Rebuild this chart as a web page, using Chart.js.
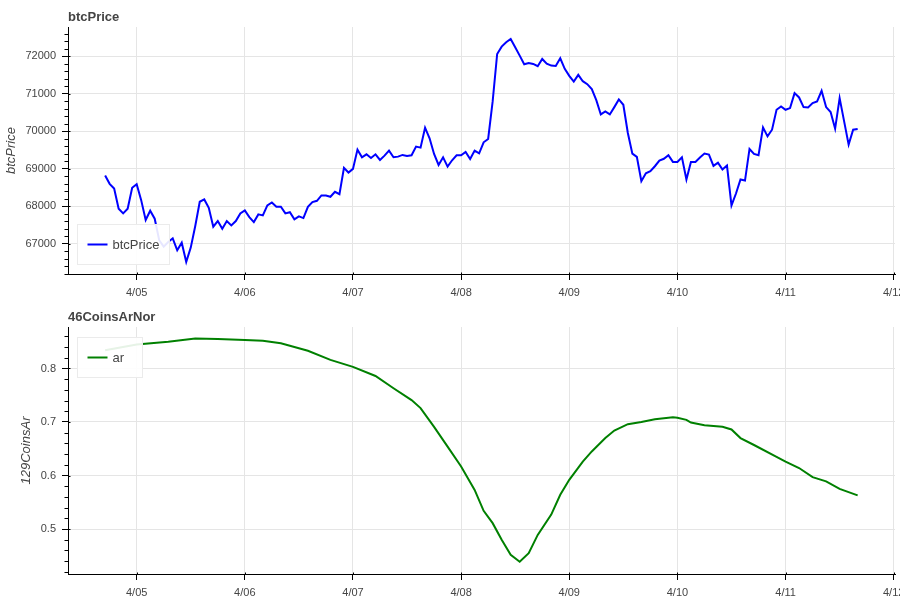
<!DOCTYPE html>
<html>
<head>
<meta charset="utf-8">
<script src="https://cdn.jsdelivr.net/npm/chart.js@4.4.1/dist/chart.umd.min.js"></script>
<style>
html,body{margin:0;padding:0;background:#ffffff;}
.wrap{width:900px;height:300px;position:relative;}
canvas{display:block;}
</style>
</head>
<body>
<div class="wrap"><canvas id="c1" width="900" height="300"></canvas></div>
<div class="wrap"><canvas id="c2" width="900" height="300"></canvas></div>
<script>
// ---------- data ----------
// x tick labels (days of April)
const dayTickValues = [5, 6, 7, 8, 9, 10, 11, 12];
const dayTickLabels = ['4/05', '4/06', '4/07', '4/08', '4/09', '4/10', '4/11', '4/12'];

// y tick values
const btcTickValues = [67000, 68000, 69000, 70000, 71000, 72000];
const arTickValues = [0.5, 0.6, 0.7, 0.8];

// hourly btc price, first point 4/04 17:00 (hour -7 relative to 4/05 00:00)
const btcFirstHour = -7;
const btcPrice = [
  68823, 68602, 68478, 67938, 67814, 67938, 68496,
  68593, 68168, 67637, 67885, 67673, 67100, 66930, 67050, 67150, 66832, 67035, 66522,
  66903, 67478, 68124, 68186, 67965, 67460, 67611, 67407, 67611, 67496, 67611, 67814,
  67894, 67717, 67584, 67788, 67761, 68027, 68106, 67991, 67991, 67814, 67845, 67655,
  67734, 67690, 67991, 68115, 68150, 68292, 68292, 68257, 68389, 68327, 69027, 68903,
  69000, 69513, 69310, 69389, 69292, 69389, 69239, 69354, 69487, 69310, 69327, 69372,
  69345, 69363, 69593, 69566, 70097, 69814, 69398, 69106, 69310, 69062, 69230, 69363,
  69363, 69451, 69265, 69487, 69415, 69708, 69797, 70797, 72062, 72257, 72372, 72460,
  72239, 72018, 71788, 71823, 71797, 71735, 71929, 71805, 71752, 71744, 71947, 71664,
  71478, 71328, 71505, 71336, 71257, 71124, 70832, 70451, 70531, 70451, 70646, 70850,
  70708, 69956, 69407, 69319, 68673, 68885, 68938, 69071, 69221, 69270, 69363, 69186,
  69186, 69310, 68717, 69186, 69186, 69301, 69407, 69381, 69080, 69168, 68982, 69089,
  68027, 68345, 68717, 68690, 69531, 69398, 69363, 70106, 69867, 70044, 70575, 70664,
  70575, 70620, 71018, 70903, 70646, 70637, 70752, 70797, 71080, 70646, 70513, 70071,
  70885, 70266, 69646, 70044, 70062
];

// ar series: hours relative to 4/05 00:00 and values
const arHours = [-7, 0, 7, 13, 18, 24, 28, 32, 38, 43, 48, 53, 57, 61, 63, 66, 69, 72, 75, 77,
  79, 81, 83, 85, 87, 89, 92, 94, 96, 99, 101, 104, 106, 109, 112, 115, 119, 120, 122, 123,
  126, 130, 132, 134, 137, 142, 144, 147, 150, 153, 156, 160];
const arValues = [0.834, 0.845, 0.850, 0.856, 0.855, 0.853, 0.852, 0.847, 0.833, 0.816,
  0.803, 0.786, 0.763, 0.741, 0.726, 0.691, 0.654, 0.617, 0.573, 0.534,
  0.511, 0.480, 0.452, 0.439, 0.455, 0.489, 0.527, 0.564, 0.592, 0.626,
  0.645, 0.670, 0.684, 0.696, 0.700, 0.705, 0.709, 0.708, 0.704, 0.699,
  0.694, 0.691, 0.686, 0.670, 0.657, 0.635, 0.626, 0.614, 0.597, 0.589,
  0.575, 0.563];

// ---------- styling ----------
const FONT = '"Liberation Sans", Arial, Helvetica, sans-serif';
const TEXT = '#444444';
const GRID = '#e5e5e5';
const X_MIN = 4.365, X_MAX = 12.012;

const hourToDay = h => 5 + h / 24;
const btcPoints = btcPrice.map((v, i) => ({ x: hourToDay(btcFirstHour + i), y: v }));
const arPoints = arValues.map((v, i) => ({ x: hourToDay(arHours[i]), y: v }));

const decorPlugin = {
  id: 'decor',
  afterDatasetsDraw(chart, args, o) {
    const { ctx, chartArea } = chart;
    // legend
    ctx.save();
    ctx.font = '13px ' + FONT;
    const tw = ctx.measureText(o.legendLabel).width;
    const w = 10 + 20 + 5 + Math.max(20, tw) + 10;
    const h = 40;
    const x = Math.round(chartArea.left + 9) + 0.5;
    const y = o.legendAt === 'bottom' ? Math.round(chartArea.bottom - 10 - h) + 0.5 : Math.round(chartArea.top + 10) + 0.5;
    ctx.fillStyle = 'rgba(255,255,255,0.9)';
    ctx.fillRect(x, y, w, h);
    ctx.strokeStyle = '#ebebeb';
    ctx.lineWidth = 1;
    ctx.strokeRect(x, y, w, h);
    ctx.strokeStyle = o.legendColor;
    ctx.lineWidth = 2;
    ctx.beginPath();
    ctx.moveTo(x + 10, y + h / 2);
    ctx.lineTo(x + 30, y + h / 2);
    ctx.stroke();
    ctx.fillStyle = TEXT;
    ctx.textBaseline = 'middle';
    ctx.textAlign = 'left';
    ctx.fillText(o.legendLabel, x + 35, y + h / 2 + 0.5);
    ctx.restore();
  },
  afterDraw(chart, args, o) {
    const { ctx, chartArea } = chart;
    ctx.save();
    // plot title
    ctx.font = 'bold 13px ' + FONT;
    ctx.fillStyle = TEXT;
    ctx.textBaseline = 'alphabetic';
    ctx.textAlign = 'left';
    ctx.fillText(o.title, chartArea.left, 20.5);
    // minor y ticks and inner major ticks
    const ys = chart.scales.y;
    const left = Math.round(chartArea.left) + 0.5;
    ctx.strokeStyle = '#000';
    ctx.lineWidth = 1;
    const k0 = Math.ceil(ys.min / o.minorStep - 1e-9);
    const k1 = Math.floor(ys.max / o.minorStep + 1e-9);
    for (let k = k0; k <= k1; k++) {
      const p = Math.round(ys.getPixelForValue(k * o.minorStep)) + 0.5;
      ctx.beginPath();
      if (k % o.minorPerMajor === 0) {
        ctx.moveTo(left, p); ctx.lineTo(left + 2, p);
      } else {
        ctx.moveTo(left - 4, p); ctx.lineTo(left, p);
      }
      ctx.stroke();
    }
    // inner part of x major ticks
    const xs = chart.scales.x;
    const bottom = Math.round(chartArea.bottom) + 0.5;
    xs.ticks.forEach(t => {
      const p = Math.round(xs.getPixelForValue(t.value)) + 0.5;
      ctx.beginPath(); ctx.moveTo(p, bottom - 2); ctx.lineTo(p, bottom); ctx.stroke();
    });
    ctx.restore();
  }
};

function makeChart(id, points, color, cfg) {
  return new Chart(document.getElementById(id), {
    type: 'line',
    data: {
      datasets: [{
        label: cfg.legendLabel,
        data: points,
        borderColor: color,
        borderWidth: 2,
        pointRadius: 0,
        tension: 0,
        fill: false
      }]
    },
    options: {
      responsive: false,
      animation: false,
      devicePixelRatio: 1,
      layout: { padding: { top: 27, left: 0, right: 5, bottom: 0 } },
      plugins: {
        legend: { display: false },
        title: { display: false },
        tooltip: { enabled: false },
        decor: cfg
      },
      scales: {
        x: {
          type: 'linear',
          min: X_MIN,
          max: X_MAX,
          afterFit(s) { s.height = 26; s.paddingLeft = 0; s.paddingRight = 0; },
          afterBuildTicks(s) { s.ticks = dayTickValues.map(v => ({ value: v })); },
          ticks: {
            autoSkip: false,
            maxRotation: 0,
            padding: 6,
            color: TEXT,
            font: { family: FONT, size: 11 },
            callback: v => dayTickLabels[dayTickValues.indexOf(v)] || ''
          },
          grid: { color: GRID, lineWidth: 1, tickLength: 6, tickColor: '#000', drawTicks: true },
          border: { display: true, color: '#000', width: 1 }
        },
        y: {
          type: 'linear',
          min: cfg.yMin,
          max: cfg.yMax,
          afterFit(s) { s.width = 68; s.paddingTop = 0; s.paddingBottom = 0; },
          afterBuildTicks(s) { s.ticks = cfg.yTicks.map(v => ({ value: v })); },
          title: {
            display: true,
            text: cfg.yTitle,
            color: TEXT,
            font: { family: FONT, size: 13, style: 'italic' },
            padding: { top: cfg.yTitlePad, bottom: 0 }
          },
          ticks: {
            autoSkip: false,
            padding: 6,
            color: TEXT,
            font: { family: FONT, size: 11 },
            callback: cfg.fmt
          },
          grid: { color: GRID, lineWidth: 1, tickLength: 6, tickColor: '#000', drawTicks: true },
          border: { display: true, color: '#000', width: 1 }
        }
      }
    },
    plugins: [decorPlugin]
  });
}

makeChart('c1', btcPoints, '#0000ff', {
  title: 'btcPrice', yTitle: 'btcPrice', legendLabel: 'btcPrice', legendColor: '#0000ff', legendAt: 'bottom',
  yMin: 66200, yMax: 72780, yTicks: btcTickValues, minorStep: 200, minorPerMajor: 5, yTitlePad: 4,
  fmt: v => String(Math.round(v))
});
makeChart('c2', arPoints, '#008000', {
  title: '46CoinsArNor', yTitle: '129CoinsAr', legendLabel: 'ar', legendColor: '#008000', legendAt: 'top',
  yMin: 0.416, yMax: 0.8775, yTicks: arTickValues, minorStep: 0.02, minorPerMajor: 5, yTitlePad: 19,
  fmt: v => v.toFixed(1)
});
</script>
</body>
</html>
